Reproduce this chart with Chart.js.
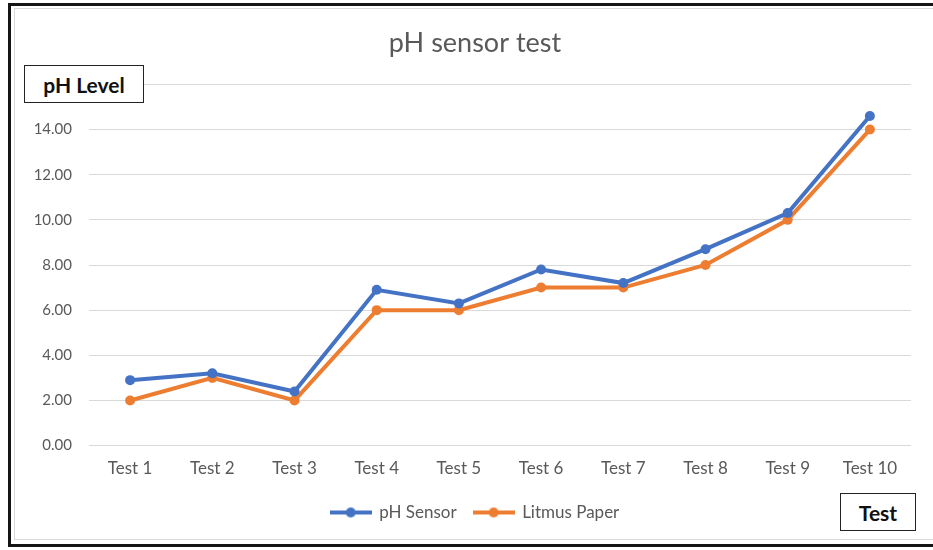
<!DOCTYPE html>
<html>
<head>
<meta charset="utf-8">
<script src="https://cdn.jsdelivr.net/npm/chart.js@4"></script>
<style>
  html, body { margin: 0; padding: 0; background: #fff; }
  #wrap { position: relative; width: 933px; height: 550px; overflow: hidden; }
  #chart { position: absolute; left: 0; top: 0; }
  .frame { position: absolute; left: 8px; top: 3px; width: 940px; height: 538px;
           border: 3px solid #151515; border-right: none; }
  .inner { position: absolute; left: 14px; top: 8px; width: 940px; height: 530px;
           border: 1px solid #d9d9d9; border-right: none; }
  .tag { position: absolute; border: 1.5px solid #222; background: #fff;
         font: bold 21px Lato, "Open Sans", sans-serif; color: #111;
         display: flex; align-items: center; justify-content: center; }
</style>
</head>
<body>
<div id="wrap">
  <div class="inner"></div>
  <div class="frame"></div>
  <canvas id="chart" width="933" height="550"></canvas>
  <div class="tag" style="left:24px;top:65px;width:118px;height:36px;">pH Level</div>
  <div class="tag" style="left:840px;top:493px;width:74px;height:36px;">Test</div>
</div>
<script>
// Dữ liệu
const tests = ['Test 1', 'Test 2', 'Test 3', 'Test 4', 'Test 5', 'Test 6', 'Test 7', 'Test 8', 'Test 9', 'Test 10'];
const phSensor = [2.9, 3.2, 2.4, 6.9, 6.3, 7.8, 7.2, 8.7, 10.3, 14.6];
const litmusPaper = [2, 3, 2, 6, 6, 7, 7, 8, 10, 14];
const yTicks = [0, 2, 4, 6, 8, 10, 12, 14, 16];

const blue = '#4472C4';
const orange = '#ED7D31';
const grey = '#595959';
const fontFamily = 'Lato, "Open Sans", sans-serif';

// legend marker: line with dot
function legendMarker(color) {
    const c = document.createElement('canvas');
    c.width = 42; c.height = 12;
    const g = c.getContext('2d');
    g.strokeStyle = color; g.lineWidth = 4;
    g.beginPath(); g.moveTo(0, 6); g.lineTo(42, 6); g.stroke();
    g.fillStyle = color;
    g.beginPath(); g.arc(21, 6, 5, 0, Math.PI * 2); g.fill();
    return c;
}
const markers = [legendMarker(blue), legendMarker(orange)];

const ctx = document.getElementById('chart').getContext('2d');
new Chart(ctx, {
    type: 'line',
    data: {
        labels: tests,
        datasets: [
            {
                label: 'pH Sensor',
                data: phSensor,
                borderColor: blue,
                backgroundColor: blue,
                borderWidth: 4,
                pointRadius: 5,
                pointBackgroundColor: blue,
                pointBorderWidth: 0,
                tension: 0
            },
            {
                label: 'Litmus Paper',
                data: litmusPaper,
                borderColor: orange,
                backgroundColor: orange,
                borderWidth: 4,
                pointRadius: 5,
                pointBackgroundColor: orange,
                pointBorderWidth: 0,
                tension: 0
            }
        ]
    },
    options: {
        responsive: false,
        animation: false,
        layout: { padding: { left: 17, right: 0, top: 27, bottom: 19 } },
        plugins: {
            title: {
                display: true,
                text: 'pH sensor test',
                color: grey,
                font: { family: fontFamily, size: 27, weight: 'normal' },
                padding: { top: 0, bottom: 25 }
            },
            legend: {
                position: 'bottom',
                labels: {
                    usePointStyle: true,
                    pointStyleWidth: 40,
                    boxHeight: 12,
                    padding: 17,
                    color: grey,
                    font: { family: fontFamily, size: 17 },
                    generateLabels: chart => chart.data.datasets.map((ds, i) => ({
                        text: ds.label,
                        pointStyle: markers[i],
                        fillStyle: ds.borderColor,
                        strokeStyle: ds.borderColor,
                        lineWidth: 0,
                        datasetIndex: i,
                        fontColor: grey
                    }))
                }
            },
            tooltip: { enabled: false }
        },
        scales: {
            x: {
                offset: true,
                afterFit: scale => { scale.height += 3; },
                grid: { display: false },
                border: { display: false },
                ticks: { color: grey, padding: 5, font: { family: fontFamily, size: 17 } }
            },
            y: {
                min: 0,
                max: 16,
                afterFit: scale => { scale.width = 72; },
                afterBuildTicks: scale => { scale.ticks = yTicks.map(v => ({ value: v })); },
                grid: { color: '#d9d9d9', lineWidth: 1, drawTicks: false },
                border: { display: false },
                ticks: {
                    color: grey,
                    padding: 17,
                    font: { family: fontFamily, size: 15 },
                    callback: v => v === 16 ? '' : v.toFixed(2)
                }
            },
            // empty right-hand axis, only keeps the plot's right margin
            yRight: {
                position: 'right',
                afterFit: scale => { scale.width = 22; },
                grid: { display: false },
                border: { display: false },
                ticks: { display: false }
            }
        }
    }
});
</script>
</body>
</html>
